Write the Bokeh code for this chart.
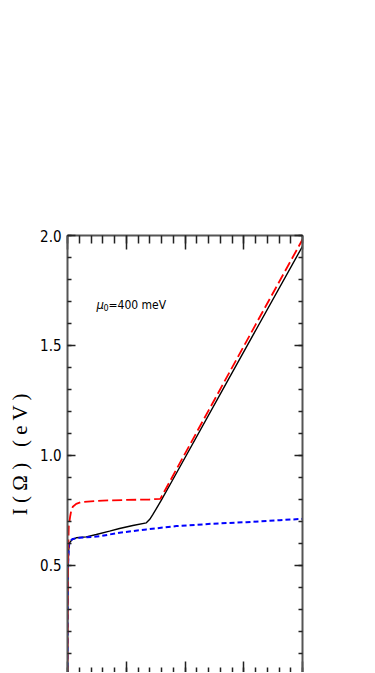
from bokeh.plotting import figure
from bokeh.models import LinearAxis, SingleIntervalTicker, Range1d, Label
from bokeh.embed import file_html
from bokeh.resources import INLINE

# ---- data ----
x_black = [0, 0.002, 0.005, 0.01, 0.017, 0.04, 0.074, 0.159, 0.245, 0.358, 0.443, 0.556,
           0.671, 0.70, 0.727, 0.80, 0.897, 1.366, 2.0]
y_black = [0, 0.35, 0.50, 0.57, 0.603, 0.618, 0.626, 0.63, 0.641, 0.656, 0.668, 0.682,
           0.694, 0.71, 0.732, 0.798, 0.891, 1.343, 1.951]

x_blue = [0, 0.002, 0.005, 0.01, 0.017, 0.045, 0.102, 0.216, 0.273, 0.358, 0.443, 0.671,
          0.926, 1.238, 1.523, 1.807, 2.0]
y_blue = [0, 0.35, 0.50, 0.57, 0.61, 0.621, 0.626, 0.63, 0.633, 0.641, 0.649, 0.664,
          0.679, 0.69, 0.697, 0.706, 0.712]

x_red = [0, 0.002, 0.005, 0.008, 0.011, 0.023, 0.031, 0.045, 0.074, 0.117, 0.3, 0.5,
         0.7, 0.79, 1.2, 1.6, 2.0]
y_red = [0, 0.30, 0.50, 0.62, 0.68, 0.724, 0.747, 0.767, 0.78, 0.788, 0.795, 0.798,
         0.80, 0.803, 1.204, 1.594, 1.982]

y_tick_vals = [0.5, 1.0, 1.5, 2.0]
y_tick_labels = ["0.5", "1.0", "1.5", "2.0"]
y_title = "I ( Ω )\u00a0\u00a0\u00a0( e V )"
mu_text = "=400 meV"

TICK_FONT = "'DejaVu Sans Condensed', 'Liberation Sans Narrow', 'Liberation Sans', sans-serif"

p = figure(width=366, height=672, output_backend="svg", toolbar_location=None,
           x_range=Range1d(0, 2.0), y_range=Range1d(0.0136, 2.0),
           x_axis_location=None, y_axis_location=None,
           min_border_left=67, min_border_right=64, min_border_top=235,
           min_border_bottom=0)
p.grid.visible = False
p.outline_line_color = None
p.background_fill_color = "white"
p.border_fill_color = "white"


def style_axis(ax, major_in, minor_in, labels=False, line=True):
    ax.axis_line_color = "#555555" if line else None
    ax.axis_line_width = 2
    ax.major_tick_in = major_in
    ax.major_tick_out = 0
    ax.minor_tick_in = minor_in
    ax.minor_tick_out = 0
    ax.major_tick_line_color = "#222222"
    ax.minor_tick_line_color = "#222222"
    ax.major_tick_line_width = 1.5
    ax.minor_tick_line_width = 1.5
    if not labels:
        ax.major_label_text_color = None
        ax.major_label_text_font_size = "1px"
        ax.major_label_standoff = 0


left = LinearAxis(ticker=SingleIntervalTicker(interval=0.5, num_minor_ticks=5))
style_axis(left, 8, 4, labels=True)
left.major_label_overrides = dict(zip(y_tick_vals, y_tick_labels))
left.major_label_text_font = TICK_FONT
left.major_label_text_font_size = "15px"
left.major_label_text_color = "black"
left.major_label_standoff = 6
left.axis_label = y_title
left.axis_label_text_font = "Liberation Serif"
left.axis_label_text_font_style = "normal"
left.axis_label_text_font_size = "21px"
left.axis_label_text_color = "black"
left.axis_label_standoff = 5
p.add_layout(left, "left")

right = LinearAxis(ticker=SingleIntervalTicker(interval=0.5, num_minor_ticks=5))
style_axis(right, 8, 4)
p.add_layout(right, "right")

top = LinearAxis(ticker=SingleIntervalTicker(interval=0.5, num_minor_ticks=5))
style_axis(top, 14, 8)
p.add_layout(top, "above")

# bottom frame edge lies at the bottom of the visible area; only tick tips show
bottom = LinearAxis(ticker=SingleIntervalTicker(interval=0.5, num_minor_ticks=5))
style_axis(bottom, 11, 5, line=False)
p.add_layout(bottom, "below")

# curves
p.line(x_black, y_black, line_color="black", line_width=1.4)
p.line(x_blue, y_blue, line_color="#0000ff", line_width=2, line_dash="5 3")
p.line(x_red, y_red, line_color="#ff0000", line_width=1.8, line_dash="10 4")

# mu_0 annotation
mx, my = 0.247, 1.686
p.add_layout(Label(x=mx, y=my, text="μ", text_font=TICK_FONT, text_font_style="italic",
                   text_font_size="13px", text_baseline="alphabetic", text_color="black"))
p.add_layout(Label(x=mx, y=my, x_offset=7, y_offset=-3, text="0", text_font=TICK_FONT,
                   text_font_size="9px", text_baseline="alphabetic", text_color="black"))
p.add_layout(Label(x=mx, y=my, x_offset=12, text=mu_text, text_font=TICK_FONT,
                   text_font_size="12px", text_baseline="alphabetic", text_color="black"))

open("out.html", "w").write(file_html(p, INLINE))
